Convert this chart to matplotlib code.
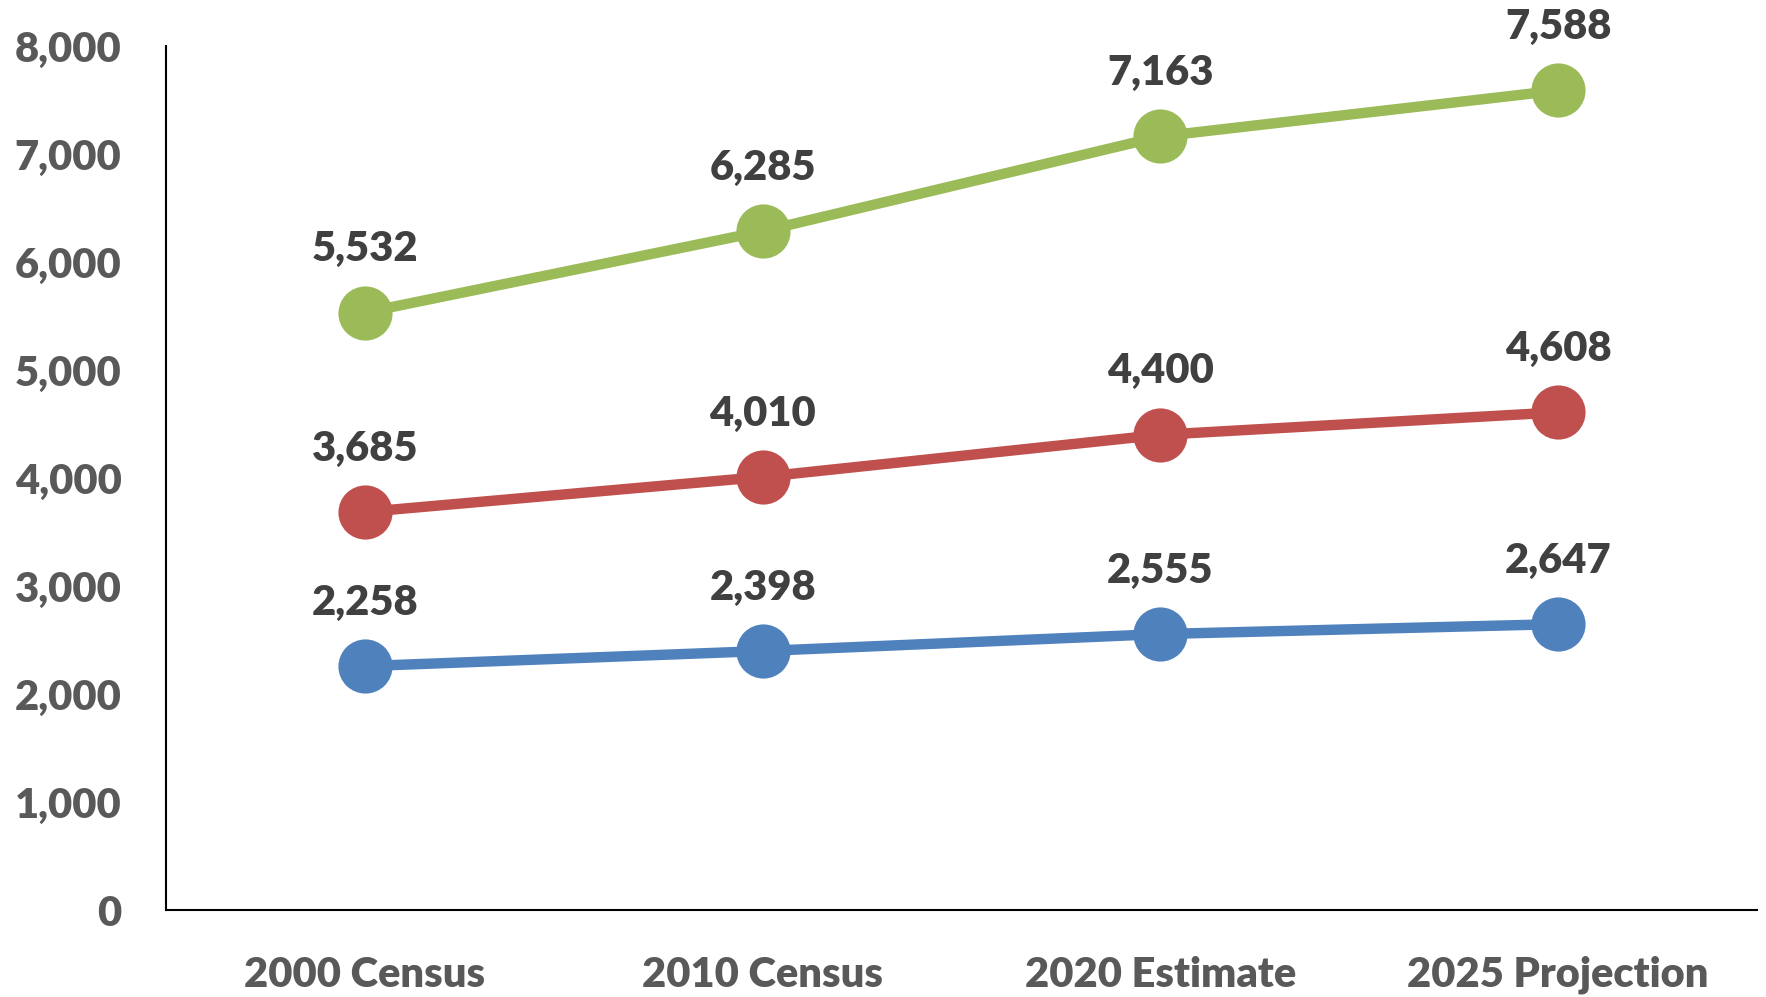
import matplotlib
matplotlib.use("Agg")
import matplotlib.pyplot as plt
from matplotlib.ticker import FuncFormatter

categories = ["2000 Census", "2010 Census", "2020 Estimate", "2025 Projection"]
series_green = [5532, 6285, 7163, 7588]
series_red = [3685, 4010, 4400, 4608]
series_blue = [2258, 2398, 2555, 2647]
y_ticks = [0, 1000, 2000, 3000, 4000, 5000, 6000, 7000, 8000]

plt.rcParams['font.family'] = ['Lato', 'DejaVu Sans']
plt.rcParams['font.weight'] = 'heavy'

fig = plt.figure(figsize=(17.66, 9.97), dpi=100)
W, H = 1766, 997
ax = fig.add_axes([166 / W, 1 - 910 / H, (1757 - 166) / W, (910 - 46) / H])

x = list(range(len(categories)))
for vals, col in [(series_green, "#9BBB59"), (series_red, "#C0504D"), (series_blue, "#4F81BD")]:
    ax.plot(x, vals, color=col, lw=7.5, marker='o', ms=39, markeredgewidth=0, solid_capstyle='round')
    for xi, v in zip(x, vals):
        ax.annotate(f"{v:,}", (xi, v), xytext=(0, 37), textcoords='offset points',
                    ha='center', va='baseline', fontsize=30, fontweight='heavy', color='#404040')

ax.set_xlim(-0.5, 3.5)
ax.set_ylim(0, 8000)
ax.set_yticks(y_ticks)
ax.yaxis.set_major_formatter(FuncFormatter(lambda v, p: f"{int(v):,}"))
ax.set_xticks(x)
ax.set_xticklabels(categories)
ax.tick_params(axis='both', length=0, labelsize=30, labelcolor='#595959')
ax.tick_params(axis='y', pad=32)
ax.tick_params(axis='x', pad=33)
for lab in ax.get_xticklabels() + ax.get_yticklabels():
    lab.set_fontweight('heavy')
for s in ['top', 'right']:
    ax.spines[s].set_visible(False)
for s in ['left', 'bottom']:
    ax.spines[s].set_linewidth(1.5)
    ax.spines[s].set_color('black')

fig.savefig("out.png", dpi=100)
